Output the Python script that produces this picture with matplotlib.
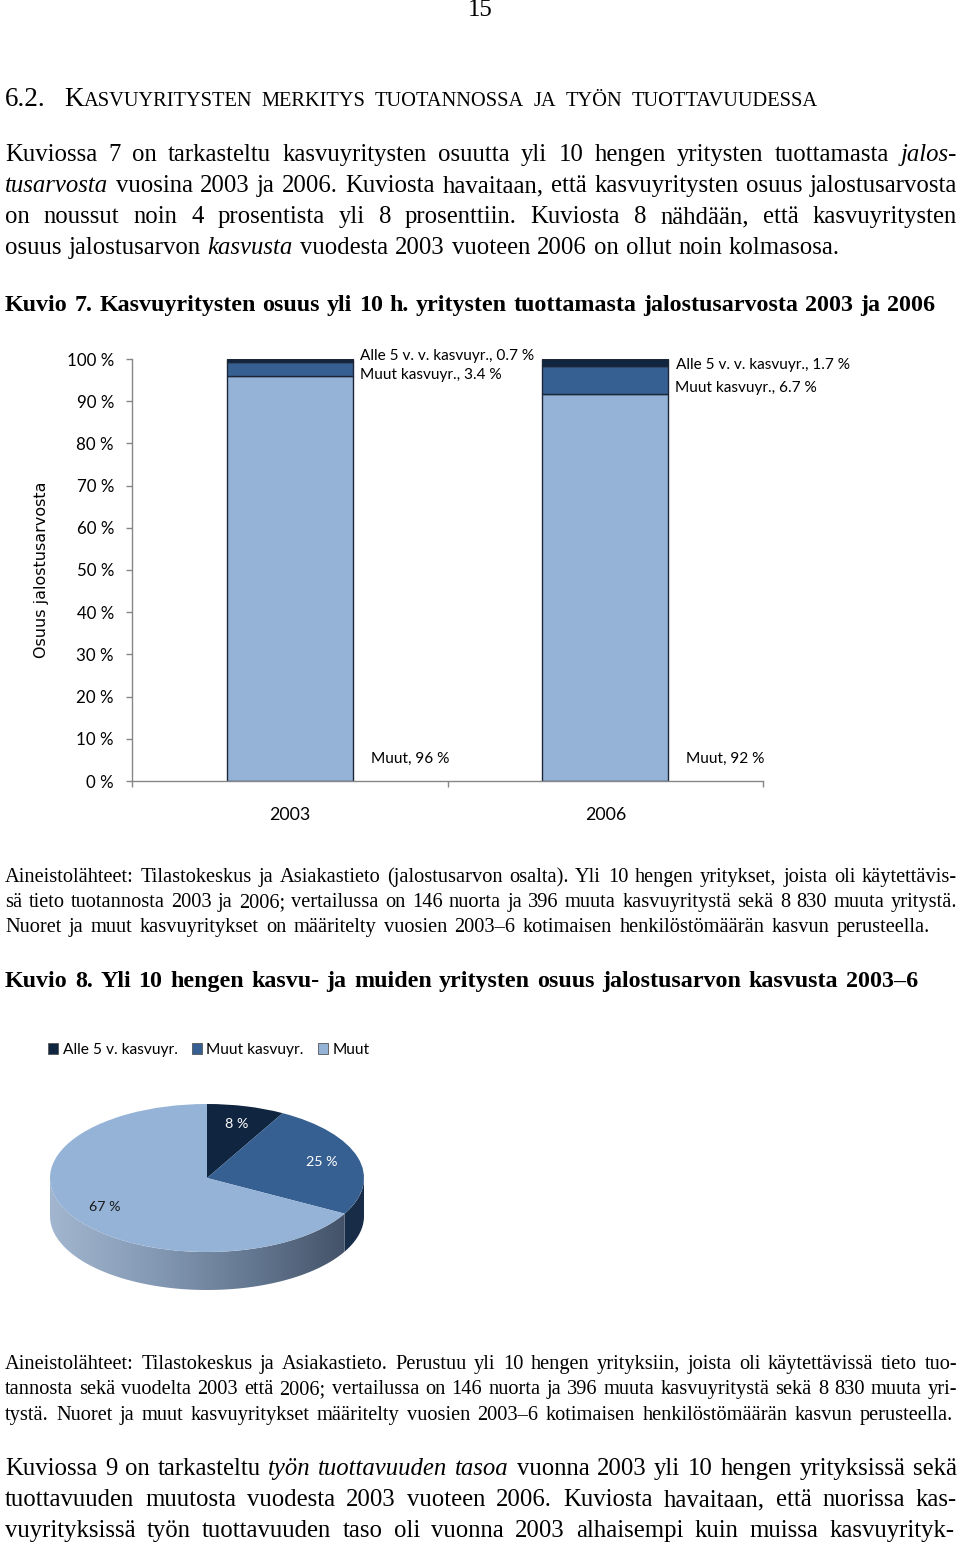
import re
import numpy as np
import matplotlib
matplotlib.use("Agg")
import matplotlib.pyplot as plt
from matplotlib.transforms import IdentityTransform
from matplotlib.colors import LinearSegmentedColormap
from matplotlib.patches import Polygon

W, H = 960, 1545

# Kuvio 7 data (stacked shares, %)
years = ["2003", "2006"]
muut = [95.9, 91.6]
muut_kasvu = [3.4, 6.7]
alle5 = [0.7, 1.7]
series_names = ["Muut", "Muut kasvuyr.", "Alle 5 v. v. kasvuyr."]
bar_colors = ["#95b3d7", "#376092", "#10253f"]
ytick_vals = list(range(0, 101, 10))
ytick_labels = [f"{v} %" for v in ytick_vals]

# Kuvio 8 data
pie_names = ["Alle 5 v. kasvuyr.", "Muut kasvuyr.", "Muut"]
pie_values = [8, 25, 67]
pie_colors = ["#10253f", "#376092", "#95b3d7"]

SERIF = "Liberation Serif"
SANS = "Lato"

# page text, line by line: (runs, baseline y from top, right edge)
heading = [([("K", "", 16.5),
             ("ASVUYRITYSTEN MERKITYS TUOTANNOSSA JA TYÖN TUOTTAVUUDESSA", "", 12.4)], 106, 818)]
para1 = [
    ([("Kuviossa 7 on tarkasteltu kasvuyritysten osuutta yli 10 hengen yritysten tuottamasta", ""),
      (" jalos-", "i")], 161, 957),
    ([("tusarvosta", "i"),
      (" vuosina 2003 ja 2006. Kuviosta havaitaan, että kasvuyritysten osuus jalostusarvosta", "")], 192, 957),
    ([("on noussut noin 4 prosentista yli 8 prosenttiin. Kuviosta 8 nähdään, että kasvuyritysten", "")], 223, 957),
    ([("osuus jalostusarvon", ""), (" kasvusta", "i"),
      (" vuodesta 2003 vuoteen 2006 on ollut noin kolmasosa.", "")], 254, 840),
]
title7 = [([("Kuvio 7. Kasvuyritysten osuus yli 10 h. yritysten tuottamasta jalostusarvosta 2003 ja 2006", "b")], 311, 935)]
source1 = [
    ([("Aineistolähteet: Tilastokeskus ja Asiakastieto (jalostusarvon osalta). Yli 10 hengen yritykset, joista oli käytettävis-", "")], 882, 957),
    ([("sä tieto tuotannosta 2003 ja 2006; vertailussa on 146 nuorta ja 396 muuta kasvuyritystä sekä 8 830 muuta yritystä.", "")], 907, 957),
    ([("Nuoret ja muut kasvuyritykset on määritelty vuosien 2003–6 kotimaisen henkilöstömäärän kasvun perusteella.", "")], 932, 930),
]
title8 = [([("Kuvio 8. Yli 10 hengen kasvu- ja muiden yritysten osuus jalostusarvon kasvusta 2003–6", "b")], 987, 918)]
source2 = [
    ([("Aineistolähteet: Tilastokeskus ja Asiakastieto. Perustuu yli 10 hengen yrityksiin, joista oli käytettävissä tieto tuo-", "")], 1369, 957),
    ([("tannosta sekä vuodelta 2003 että 2006; vertailussa on 146 nuorta ja 396 muuta kasvuyritystä sekä 8 830 muuta yri-", "")], 1394, 957),
    ([("tystä. Nuoret ja muut kasvuyritykset määritelty vuosien 2003–6 kotimaisen henkilöstömäärän kasvun perusteella.", "")], 1420, 953),
]
para2 = [
    ([("Kuviossa 9 on tarkasteltu", ""), (" työn tuottavuuden tasoa", "i"),
      (" vuonna 2003 yli 10 hengen yrityksissä sekä", "")], 1475, 957),
    ([("tuottavuuden muutosta vuodesta 2003 vuoteen 2006. Kuviosta havaitaan, että nuorissa kas-", "")], 1506, 957),
    ([("vuyrityksissä työn tuottavuuden taso oli vuonna 2003 alhaisempi kuin muissa kasvuyrityk-", "")], 1537, 955),
]

fig = plt.figure(figsize=(W / 100, H / 100), dpi=100)
renderer = fig.canvas.get_renderer()


def make_words(runs, y, size, scale):
    items = []
    prev_space = False
    for run in runs:
        text, st = run[0], run[1]
        fs = (run[2] if len(run) > 2 else size) * scale
        for m in re.finditer(r"(\s*)(\S+)", text):
            sp = bool(m.group(1)) or prev_space
            prev_space = False
            t = fig.text(0, H - y, m.group(2), transform=IdentityTransform(),
                         fontfamily=SERIF, fontsize=fs,
                         fontstyle="italic" if st == "i" else "normal",
                         fontweight="bold" if st == "b" else "normal",
                         ha="left", va="baseline")
            items.append([t, t.get_window_extent(renderer).width, sp])
        prev_space = text.endswith(" ")
    space = size * scale * 100 / 72 * 0.25
    nsp = sum(1 for it in items[1:] if it[2])
    natural = sum(it[1] for it in items) + space * nsp
    return items, space, nsp, natural


def fit_scale(lines, size, x0=5, n_full=None):
    # largest common scale that keeps the full lines inside their width
    n_full = len(lines) if n_full is None else n_full
    best = 10.0
    for runs, y, x1 in lines[:n_full]:
        items, _, _, nat = make_words(runs, y, size, 1.0)
        for it in items:
            it[0].remove()
        best = min(best, (x1 - x0) / nat)
    return best * 0.985


def put_lines(lines, size, scale, x0=5):
    for runs, y, x1 in lines:
        items, space, nsp, nat = make_words(runs, y, size, scale)
        if nsp > 0:
            space += (x1 - x0 - nat) / nsp
        x = x0
        for i, (t, w, sp) in enumerate(items):
            if i > 0 and sp:
                x += space
            t.set_x(x)
            x += w


BODY = 16.5
SMALL = 13.2
body_scale = min(fit_scale(para1, BODY, n_full=3), fit_scale(para2, BODY))
small_scale = min(fit_scale(source1, SMALL, n_full=2), fit_scale(source2, SMALL, n_full=2))
title_scale = min(fit_scale(title7, BODY), fit_scale(title8, BODY))
head_scale = fit_scale(heading, BODY, x0=64)

fig.text(480, H - 16, "15", transform=IdentityTransform(), fontfamily=SERIF,
         fontsize=BODY * body_scale, ha="center", va="baseline")
fig.text(5, H - 106, "6.2.", transform=IdentityTransform(), fontfamily=SERIF,
         fontsize=BODY * head_scale, ha="left", va="baseline")
put_lines(heading, BODY, head_scale, x0=64)
put_lines(para1, BODY, body_scale)
put_lines(title7, BODY, title_scale)
put_lines(source1, SMALL, small_scale)
put_lines(title8, BODY, title_scale)
put_lines(source2, SMALL, small_scale)
put_lines(para2, BODY, body_scale)

# ---- Kuvio 7: stacked bars ----
ax = fig.add_axes([132 / W, (H - 781) / H, (763 - 132) / W, 422 / H])
x = np.arange(len(years))
bw = 0.4
edge = "#1B2738"
bottoms = np.zeros(len(years))
for vals, col in zip([muut, muut_kasvu, alle5], bar_colors):
    ax.bar(x, vals, bw, bottom=bottoms, color=col, edgecolor=edge, linewidth=1.0, zorder=2)
    bottoms += np.array(vals)

ax.set_xlim(-0.5, len(years) - 0.5)
ax.set_ylim(0, 100)
ax.set_yticks(ytick_vals)
ax.set_yticklabels(ytick_labels, fontfamily=SANS, fontsize=12.2)
ax.set_xticks(x)
ax.set_xticklabels(years, fontfamily=SANS, fontsize=12.8)
ax.set_xticks(np.arange(-0.5, len(years)), minor=True)
ax.tick_params(axis="x", which="major", length=0, pad=19)
ax.tick_params(axis="x", which="minor", length=4.5, color="#868686", width=1)
ax.tick_params(axis="y", length=4, color="#868686", width=1, pad=9)
for s in ["top", "right"]:
    ax.spines[s].set_visible(False)
for s in ["left", "bottom"]:
    ax.spines[s].set_color("#868686")
    ax.spines[s].set_linewidth(1)
ax.set_ylabel("Osuus jalostusarvosta", fontfamily="DejaVu Sans", fontsize=11.5, labelpad=13)

# data labels
lab_kw = dict(fontfamily=SANS, fontsize=11.1, ha="left", va="center")
ax.text(0.223, 100.6, f"{series_names[2]}, {alle5[0]} %", **lab_kw)
ax.text(0.223, 96.1, f"{series_names[1]}, {muut_kasvu[0]} %", **lab_kw)
ax.text(1.224, 98.6, f"{series_names[2]}, {alle5[1]} %", **lab_kw)
ax.text(1.221, 93.1, f"{series_names[1]}, {muut_kasvu[1]} %", **lab_kw)
ax.text(0.257, 5.2, f"{series_names[0]}, {muut[0]:.0f} %", **lab_kw)
ax.text(1.256, 5.2, f"{series_names[0]}, {muut[1]:.0f} %", **lab_kw)

# ---- Kuvio 8: 3D-looking pie ----
depth = 38 / 74
pax = fig.add_axes([50 / W, (H - 1290) / H, 314 / W, 186 / H])
wedges, _, autotexts = pax.pie(pie_values, colors=pie_colors, startangle=90, counterclock=False,
                               autopct=lambda p: f"{p:.0f} %", pctdistance=0.76,
                               wedgeprops=dict(linewidth=0, zorder=3),
                               textprops=dict(fontfamily=SANS, fontsize=10.3))
pax.set_aspect("auto")
pax.axis("off")
for t, c in zip(autotexts, ["white", "white", "#1a1a1a"]):
    t.set_color(c)
    t.set_zorder(5)

side_maps = {
    "#95b3d7": ["#a2b6cf", "#8499b4", "#62758e", "#3d4b60"],
    "#376092": ["#27456c", "#182c47"],
    "#10253f": ["#0c1b2e", "#08121f"],
}
for w in wedges:
    a1, a2 = w.theta1, w.theta2
    col = matplotlib.colors.to_hex(w.get_facecolor())
    for k in (-1, 0, 1):
        lo, hi = max(a1, -180 + 360 * k), min(a2, 360 * k)
        if hi <= lo:
            continue
        tt = np.radians(np.linspace(lo, hi, 80))
        top = np.column_stack([np.cos(tt), np.sin(tt)])
        bot = np.column_stack([np.cos(tt), np.sin(tt) - depth])[::-1]
        poly = Polygon(np.vstack([top, bot]), closed=True, facecolor="none", edgecolor="none")
        pax.add_patch(poly)
        cmap = LinearSegmentedColormap.from_list("side", side_maps[col])
        im = pax.imshow(np.linspace(0, 1, 256)[None, :], cmap=cmap, aspect="auto",
                        extent=(-1, 1, -1 - depth, 0), zorder=2)
        im.set_clip_path(poly)
pax.set_xlim(-1, 1)
pax.set_ylim(-1 - depth, 1)

fig.legend(wedges, pie_names, loc="center left", bbox_to_anchor=(34 / W, 1 - 1050 / H),
           ncol=3, frameon=False, handlelength=0.65, handleheight=0.65, handletextpad=0.3,
           columnspacing=0.9, prop=dict(family=SANS, size=11.2))
for h in fig.legends[0].legend_handles:
    h.set_edgecolor("#555555")
    h.set_linewidth(0.6)

fig.savefig("out.png", dpi=100, facecolor="white")
